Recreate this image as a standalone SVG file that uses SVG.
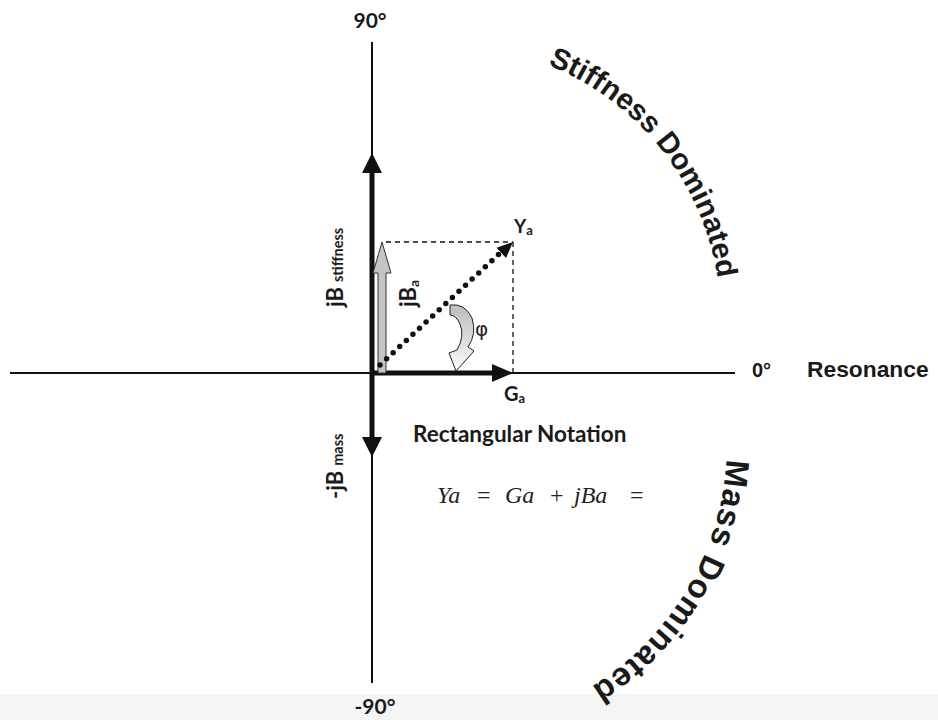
<svg xmlns="http://www.w3.org/2000/svg" width="938" height="720" viewBox="0 0 938 720">
<style>
.lbl{font-family:Lato,"Liberation Sans",sans-serif;font-weight:bold;fill:#1a1a1a}
.arial{font-family:"Liberation Sans",Arial,sans-serif;font-weight:bold;fill:#1a1a1a}
.eq{font-family:"Liberation Serif","DejaVu Serif",serif;font-size:24px;fill:#222}
.it{font-style:italic}
.axis{stroke:#111;stroke-width:2;fill:none}
.thick{stroke:#111;stroke-width:5;fill:none}
.head{fill:#111;stroke:none}
.dash{stroke:#111;stroke-width:1.3;stroke-dasharray:5 4;fill:none}
</style>
<defs>
<linearGradient id="gphi" x1="0" y1="0" x2="0" y2="1">
<stop offset="0" stop-color="#bdbdbd"/><stop offset="0.6" stop-color="#e0e0e0"/><stop offset="1" stop-color="#ffffff"/>
</linearGradient>
<path id="arcS" d="M 492.9 49.2 A 276 276 0 0 1 720.6 335.4"/>
<path id="arcM" d="M 722.6 393.2 A 287 287 0 0 1 538.2 712.7"/>
</defs>
<rect x="0" y="0" width="938" height="720" fill="#ffffff"/>
<rect x="0" y="694" width="938" height="26" fill="#f4f4f4"/>

<g id="connectors">
<line class="axis" x1="372" y1="42" x2="372" y2="683"/>
<line class="axis" x1="10" y1="373" x2="735" y2="373"/>
<g id="jb-stiffness-arrow">
<line class="thick" x1="372" y1="373" x2="372" y2="170"/>
<polygon class="head" points="372,153 362,173 382,173"/>
</g>
<g id="jb-mass-arrow">
<line class="thick" x1="372" y1="373" x2="372" y2="440"/>
<polygon class="head" points="372,457 362,437 382,437"/>
</g>
<g id="ga-arrow">
<line class="thick" x1="372" y1="373" x2="495" y2="373"/>
<polygon class="head" points="513,373 492,364 492,382"/>
</g>
<g id="dashed-rect">
<line class="dash" x1="386" y1="242" x2="513" y2="242"/>
<line class="dash" x1="513" y1="242" x2="513" y2="372"/>
</g>
<g id="jba-arrow">
<path d="M378,373 L378,273 L373,273 L382,242 L391,273 L386,273 L386,373 Z" fill="#c4c4c4" stroke="#333" stroke-width="1"/>
</g>
<g id="ya-arrow">
<line x1="380" y1="365" x2="499" y2="254" stroke="#111" stroke-width="5.5" stroke-linecap="round" stroke-dasharray="0 9"/>
<polygon class="head" points="513,242 506.1,258 496.5,247.8"/>
</g>
<g id="phi-arrow">
<path d="M 450 305 Q 465 303 472 318 Q 477 334 468 347 L 474 351 L 456 371 L 449 353 L 457 350 Q 465 336 460 324 Q 456 315 450 315 Z" fill="url(#gphi)" stroke="#222" stroke-width="1"/>
</g>
</g>

<g id="label-90"><text class="lbl" x="370" y="28" font-size="21" text-anchor="middle">90°</text></g>
<g id="label-m90"><text class="lbl" x="375" y="714" font-size="21" text-anchor="middle">-90°</text></g>
<g id="label-0"><text class="arial" x="752" y="377" font-size="20">0°</text></g>
<g id="label-resonance"><text class="arial" x="807" y="377" font-size="22.8">Resonance</text></g>

<g id="label-jb-stiffness"><text class="lbl" transform="translate(343,307) rotate(-90)" font-size="22">jB<tspan font-size="14.5" dx="5">stiffness</tspan></text></g>
<g id="label-jb-mass"><text class="lbl" transform="translate(343,499) rotate(-90)" font-size="22">-jB<tspan font-size="14.5" dx="5">mass</tspan></text></g>
<g id="label-jba"><text class="lbl" transform="translate(416,307) rotate(-90)" font-size="22">jB<tspan font-size="14" dy="3">a</tspan></text></g>
<g id="label-ya"><text class="lbl" x="514" y="233" font-size="19">Y<tspan font-size="13" dy="2">a</tspan></text></g>
<g id="label-ga"><text class="lbl" x="504" y="401" font-size="20">G<tspan font-size="13" dy="2">a</tspan></text></g>
<g id="label-phi"><text x="475" y="336" font-family="'DejaVu Sans',sans-serif" font-size="20" fill="#222">φ</text></g>

<g id="label-rect-notation"><text class="lbl" x="413" y="442" font-size="22.5">Rectangular Notation</text></g>
<g id="equation">
<text class="eq"><tspan class="it" x="437" y="503">Ya</tspan><tspan x="477" y="503">=</tspan><tspan class="it" x="505" y="503">Ga</tspan><tspan x="550" y="503">+</tspan><tspan class="it" x="574" y="503">jBa</tspan><tspan x="630" y="503">=</tspan></text>
</g>

<g id="label-stiffness-dominated"><text class="arial" font-size="29.5"><textPath href="#arcS" startOffset="50%" text-anchor="middle">Stiffness Dominated</textPath></text></g>
<g id="label-mass-dominated"><text class="arial" font-size="33" letter-spacing="1"><textPath href="#arcM" startOffset="51%" text-anchor="middle">Mass Dominated</textPath></text></g>
</svg>
